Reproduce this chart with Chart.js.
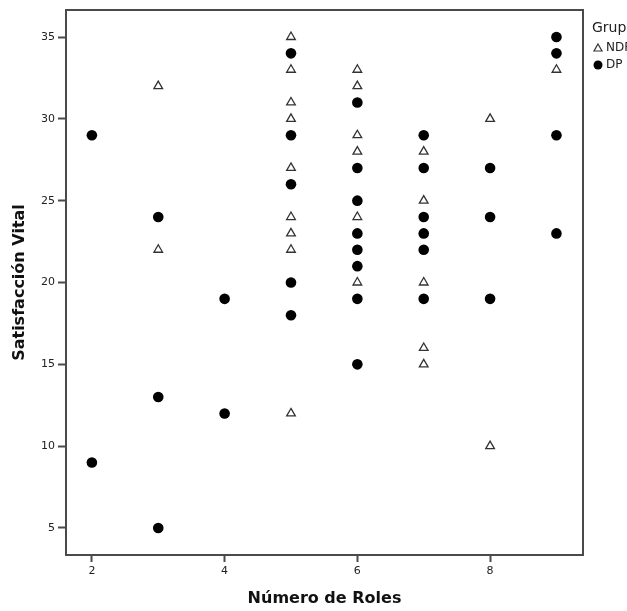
<!DOCTYPE html>
<html>
<head>
<meta charset="utf-8">
<script src="https://cdn.jsdelivr.net/npm/chart.js@4.4.1/dist/chart.umd.min.js"></script>
<style>
  html, body { margin: 0; padding: 0; background: #fff; overflow: hidden; }
  #wrap { position: relative; width: 627px; height: 611px; }
</style>
</head>
<body>
<div id="wrap"><canvas id="chart" width="627" height="611"></canvas></div>
<script>
// Group ND (open triangles)
const ndX = [3, 3, 5, 5, 5, 5, 5, 5, 5, 5, 5, 6, 6, 6, 6, 6, 6, 7, 7, 7, 7, 7, 8, 8, 9]
const ndY = [32, 22, 35, 33, 31, 30, 27, 24, 23, 22, 12, 33, 32, 29, 28, 24, 20, 28, 25, 20, 16, 15, 30, 10, 33]

// Group DP (filled circles)
const dpX = [2, 2, 3, 3, 3, 4, 4, 5, 5, 5, 5, 5, 6, 6, 6, 6, 6, 6, 6, 6, 7, 7, 7, 7, 7, 7, 8, 8, 8, 9, 9, 9, 9]
const dpY = [29, 9, 24, 13, 5, 19, 12, 34, 29, 26, 20, 18, 31, 27, 25, 23, 22, 21, 19, 15, 29, 27, 24, 23, 22, 19, 27, 24, 19, 35, 34, 29, 23]

const xTicks = [2, 4, 6, 8]
const yTicks = [5, 10, 15, 20, 25, 30, 35]
const groupLabels = ["NDP", "DP"]

const toPoints = (xs, ys) => xs.map((x, i) => ({ x, y: ys[i] }))

const FRAME = "#4a4a4a"
const FONT = "'DejaVu Sans', sans-serif"

// box around the plot area plus the clipped legend on the right
const framePlugin = {
  id: "frame",
  afterDatasetsDraw(chart) {
    const { ctx, chartArea: a } = chart
    ctx.save()
    ctx.strokeStyle = FRAME
    ctx.lineWidth = 2
    ctx.strokeRect(a.left, a.top, a.right - a.left, a.bottom - a.top)

    const lx = a.right + 9
    ctx.fillStyle = "#222"
    ctx.font = "14px " + FONT
    ctx.textBaseline = "middle"
    ctx.fillText("Grupo", lx, 28)

    ctx.font = "12px " + FONT
    // triangle entry
    ctx.beginPath()
    ctx.moveTo(lx + 6, 44)
    ctx.lineTo(lx + 10, 51)
    ctx.lineTo(lx + 2, 51)
    ctx.closePath()
    ctx.fillStyle = "#fff"
    ctx.fill()
    ctx.strokeStyle = "#333"
    ctx.lineWidth = 1.2
    ctx.stroke()
    ctx.fillStyle = "#222"
    ctx.fillText(groupLabels[0], lx + 14, 48)
    // circle entry
    ctx.beginPath()
    ctx.arc(lx + 6, 65, 4.5, 0, Math.PI * 2)
    ctx.fillStyle = "#000"
    ctx.fill()
    ctx.fillStyle = "#222"
    ctx.fillText(groupLabels[1], lx + 14, 65)
    ctx.restore()
  }
}

new Chart(document.getElementById("chart"), {
  type: "scatter",
  data: {
    datasets: [
      {
        label: groupLabels[0],
        data: toPoints(ndX, ndY),
        pointStyle: "triangle",
        pointRadius: 5,
        pointHoverRadius: 5,
        backgroundColor: "#fff",
        borderColor: "#333",
        borderWidth: 1.3
      },
      {
        label: groupLabels[1],
        data: toPoints(dpX, dpY),
        pointStyle: "circle",
        pointRadius: 5.3,
        pointHoverRadius: 5.3,
        backgroundColor: "#000",
        borderColor: "#000",
        borderWidth: 0
      }
    ]
  },
  options: {
    responsive: false,
    animation: false,
    layout: { padding: { top: 10, right: 44, left: 0, bottom: 0 } },
    plugins: {
      legend: { display: false },
      tooltip: { enabled: false }
    },
    scales: {
      x: {
        type: "linear",
        min: 1.61,
        max: 9.4,
        afterBuildTicks: (scale) => { scale.ticks = xTicks.map(v => ({ value: v })) },
        afterFit: (scale) => { scale.height = 56 },
        grid: { drawOnChartArea: false, tickLength: 7, tickColor: FRAME, tickWidth: 2 },
        border: { display: false },
        ticks: { color: "#222", font: { family: FONT, size: 11 }, padding: 3, maxRotation: 0 },
        title: {
          display: true,
          text: "Número de Roles",
          color: "#111",
          font: { family: FONT, size: 16, weight: "bold" },
          padding: { top: 0, bottom: 3 }
        }
      },
      y: {
        type: "linear",
        min: 3.35,
        max: 36.65,
        afterBuildTicks: (scale) => { scale.ticks = yTicks.map(v => ({ value: v })) },
        afterFit: (scale) => { scale.width = 66 },
        grid: { drawOnChartArea: false, tickLength: 8, tickColor: FRAME, tickWidth: 2 },
        border: { display: false },
        ticks: { color: "#222", font: { family: FONT, size: 11 }, padding: 3 },
        title: {
          display: true,
          text: "Satisfacción Vital",
          color: "#111",
          font: { family: FONT, size: 16, weight: "bold" },
          padding: { top: 10, bottom: 0 }
        }
      }
    }
  },
  plugins: [framePlugin]
})
</script>
</body>
</html>
